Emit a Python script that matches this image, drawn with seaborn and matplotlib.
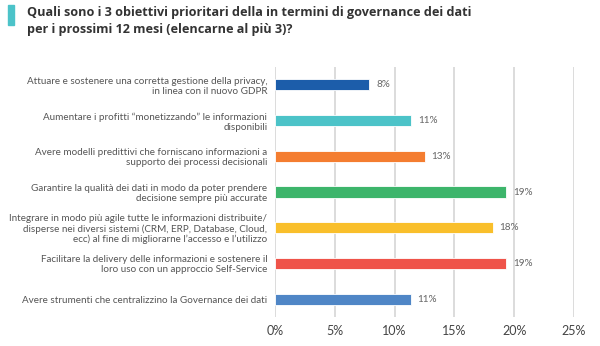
import matplotlib
matplotlib.use("Agg")
import matplotlib.pyplot as plt
import seaborn as sns
import pandas as pd

categories = [
    "Attuare e sostenere una corretta gestione della privacy,\nin linea con il nuovo GDPR",
    "Aumentare i profitti \u201cmonetizzando\u201d le informazioni\ndisponibili",
    "Avere modelli predittivi che forniscano informazioni a\nsupporto dei processi decisionali",
    "Garantire la qualità dei dati in modo da poter prendere\ndecisione sempre più accurate",
    "Integrare in modo più agile tutte le informazioni distribuite/\ndisperse nei diversi sistemi (CRM, ERP, Database, Cloud,\necc) al fine di migliorarne l\u2019accesso e l\u2019utilizzo",
    "Facilitare la delivery delle informazioni e sostenere il\nloro uso con un approccio Self-Service",
    "Avere strumenti che centralizzino la Governance dei dati",
]
values = [7.9, 11.4, 12.5, 19.3, 18.2, 19.3, 11.35]
value_labels = ["8%", "11%", "13%", "19%", "18%", "19%", "11%"]
colors = ["#1C5DAA", "#4CC3C8", "#F47D30", "#3DB56B", "#F9BF2B", "#EF5349", "#4F86C6"]
xticks = [0, 5, 10, 15, 20, 25]
xtick_labels = ["0%", "5%", "10%", "15%", "20%", "25%"]
title = "Quali sono i 3 obiettivi prioritari della in termini di governance dei dati\nper i prossimi 12 mesi (elencarne al più 3)?"

df = pd.DataFrame({"cat": categories, "val": values})

sns.set_theme(style="white")
plt.rcParams["font.family"] = ["Lato", "DejaVu Sans"]

fig = plt.figure(figsize=(6, 3.46), dpi=100)
ax = fig.add_axes([275 / 600, 1 - 317 / 346, 299 / 600, 250 / 346])

sns.barplot(data=df, y="cat", x="val", hue="cat", palette=colors, orient="h",
            width=0.31, legend=False, ax=ax, edgecolor="white", linewidth=0.6,
            saturation=1)

ax.set_xlim(0, 25)
ax.set_ylim(6.5, -0.5)
ax.set_xticks(xticks)
ax.set_xticklabels(xtick_labels, fontsize=9, color="#444444")
ax.tick_params(axis="x", length=0, pad=6)
ax.tick_params(axis="y", length=0, pad=5.5)
for lbl in ax.get_yticklabels():
    lbl.set_fontsize(7.1)
    lbl.set_color("#555555")
    lbl.set_horizontalalignment("right")
    lbl.set_multialignment("right")
    lbl.set_linespacing(1.15)
ax.set_xlabel("")
ax.set_ylabel("")
for s in ax.spines.values():
    s.set_visible(False)
ax.grid(axis="x", color="#D9D9D9", linewidth=1.3)
ax.set_axisbelow(True)

for i, (v, t) in enumerate(zip(values, value_labels)):
    ax.annotate(t, (v, i), xytext=(5, 0), textcoords="offset points",
                va="center", ha="left", fontsize=7.2, color="#666666")

fig.patches.append(plt.Rectangle((8 / 600, 1 - 25 / 346), 6 / 600, 20 / 346,
                                 transform=fig.transFigure, color="#4CC3C9", zorder=5))
fig.text(27 / 600, 1 - 6 / 346, title, ha="left", va="top", fontsize=9.1,
         fontweight="bold", color="#333333", family=["Open Sans", "DejaVu Sans"],
         linespacing=1.35)

fig.savefig("out.png", dpi=100)
